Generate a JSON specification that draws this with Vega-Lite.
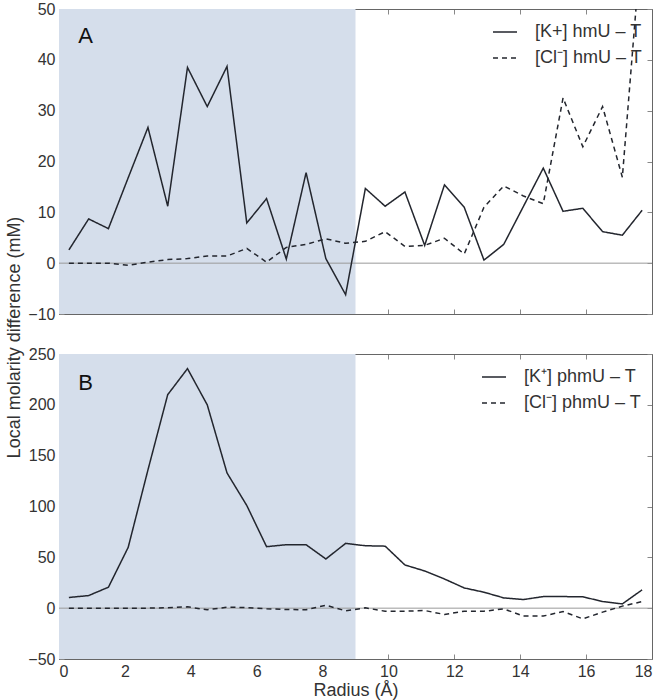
{
  "$schema": "https://vega.github.io/schema/vega-lite/v6.json",
  "padding": {"left": 5, "top": 1, "right": 8, "bottom": 2},
  "bounds": "flush",
  "config": {
    "font": "Liberation Sans",
    "view": {"stroke": null},
    "axis": {
      "grid": false,
      "domain": true,
      "domainColor": "#666",
      "domainWidth": 1,
      "tickColor": "#888",
      "tickSize": -5,
      "labelPadding": 9,
      "labelFontSize": 16,
      "labelColor": "#333",
      "titleFontSize": 18,
      "titleFontWeight": "normal",
      "titleColor": "#333",
      "zindex": 1
    },
    "concat": {"spacing": 40},
    "legend": {
      "labelFontSize": 18,
      "labelColor": "#333",
      "symbolType": "stroke",
      "symbolSize": 576,
      "symbolStrokeWidth": 1.6,
      "symbolStrokeColor": "#23262e",
      "labelOffset": 17,
      "rowPadding": 4,
      "padding": 0
    }
  },
  "datasets": {
    "shade": [{"x0": 0, "x1": 9}],
    "zero": [{"y": 0}],
    "labA": [{"x": 0.81, "y": 44.7, "t": "A"}],
    "labB": [{"x": 0.81, "y": 221.6, "t": "B"}],
    "A": [
      {"r": 0.3, "v": 2.6, "s": "[K+] hmU – T"},
      {"r": 0.9, "v": 8.7, "s": "[K+] hmU – T"},
      {"r": 1.5, "v": 6.8, "s": "[K+] hmU – T"},
      {"r": 2.1, "v": 16.8, "s": "[K+] hmU – T"},
      {"r": 2.7, "v": 26.7, "s": "[K+] hmU – T"},
      {"r": 3.3, "v": 11.2, "s": "[K+] hmU – T"},
      {"r": 3.9, "v": 38.5, "s": "[K+] hmU – T"},
      {"r": 4.5, "v": 30.8, "s": "[K+] hmU – T"},
      {"r": 5.1, "v": 38.7, "s": "[K+] hmU – T"},
      {"r": 5.7, "v": 7.9, "s": "[K+] hmU – T"},
      {"r": 6.3, "v": 12.7, "s": "[K+] hmU – T"},
      {"r": 6.9, "v": 0.8, "s": "[K+] hmU – T"},
      {"r": 7.5, "v": 17.8, "s": "[K+] hmU – T"},
      {"r": 8.1, "v": 0.9, "s": "[K+] hmU – T"},
      {"r": 8.7, "v": -6.2, "s": "[K+] hmU – T"},
      {"r": 9.3, "v": 14.7, "s": "[K+] hmU – T"},
      {"r": 9.9, "v": 11.2, "s": "[K+] hmU – T"},
      {"r": 10.5, "v": 14.0, "s": "[K+] hmU – T"},
      {"r": 11.1, "v": 3.5, "s": "[K+] hmU – T"},
      {"r": 11.7, "v": 15.4, "s": "[K+] hmU – T"},
      {"r": 12.3, "v": 11.0, "s": "[K+] hmU – T"},
      {"r": 12.9, "v": 0.6, "s": "[K+] hmU – T"},
      {"r": 13.5, "v": 3.7, "s": "[K+] hmU – T"},
      {"r": 14.1, "v": 11.2, "s": "[K+] hmU – T"},
      {"r": 14.7, "v": 18.7, "s": "[K+] hmU – T"},
      {"r": 15.3, "v": 10.2, "s": "[K+] hmU – T"},
      {"r": 15.9, "v": 10.8, "s": "[K+] hmU – T"},
      {"r": 16.5, "v": 6.2, "s": "[K+] hmU – T"},
      {"r": 17.1, "v": 5.5, "s": "[K+] hmU – T"},
      {"r": 17.7, "v": 10.4, "s": "[K+] hmU – T"},
      {"r": 0.3, "v": 0, "s": "[Cl⁻] hmU – T"},
      {"r": 0.9, "v": 0, "s": "[Cl⁻] hmU – T"},
      {"r": 1.5, "v": 0, "s": "[Cl⁻] hmU – T"},
      {"r": 2.1, "v": -0.4, "s": "[Cl⁻] hmU – T"},
      {"r": 2.7, "v": 0.2, "s": "[Cl⁻] hmU – T"},
      {"r": 3.3, "v": 0.7, "s": "[Cl⁻] hmU – T"},
      {"r": 3.9, "v": 0.9, "s": "[Cl⁻] hmU – T"},
      {"r": 4.5, "v": 1.4, "s": "[Cl⁻] hmU – T"},
      {"r": 5.1, "v": 1.4, "s": "[Cl⁻] hmU – T"},
      {"r": 5.7, "v": 2.9, "s": "[Cl⁻] hmU – T"},
      {"r": 6.3, "v": 0.2, "s": "[Cl⁻] hmU – T"},
      {"r": 6.9, "v": 3.1, "s": "[Cl⁻] hmU – T"},
      {"r": 7.5, "v": 3.7, "s": "[Cl⁻] hmU – T"},
      {"r": 8.1, "v": 4.8, "s": "[Cl⁻] hmU – T"},
      {"r": 8.7, "v": 3.9, "s": "[Cl⁻] hmU – T"},
      {"r": 9.3, "v": 4.3, "s": "[Cl⁻] hmU – T"},
      {"r": 9.9, "v": 6.2, "s": "[Cl⁻] hmU – T"},
      {"r": 10.5, "v": 3.3, "s": "[Cl⁻] hmU – T"},
      {"r": 11.1, "v": 3.5, "s": "[Cl⁻] hmU – T"},
      {"r": 11.7, "v": 4.9, "s": "[Cl⁻] hmU – T"},
      {"r": 12.3, "v": 1.8, "s": "[Cl⁻] hmU – T"},
      {"r": 12.9, "v": 11.0, "s": "[Cl⁻] hmU – T"},
      {"r": 13.5, "v": 15.2, "s": "[Cl⁻] hmU – T"},
      {"r": 14.1, "v": 13.2, "s": "[Cl⁻] hmU – T"},
      {"r": 14.7, "v": 11.7, "s": "[Cl⁻] hmU – T"},
      {"r": 15.3, "v": 32.5, "s": "[Cl⁻] hmU – T"},
      {"r": 15.9, "v": 22.9, "s": "[Cl⁻] hmU – T"},
      {"r": 16.5, "v": 30.8, "s": "[Cl⁻] hmU – T"},
      {"r": 17.1, "v": 16.9, "s": "[Cl⁻] hmU – T"},
      {"r": 17.7, "v": 65, "s": "[Cl⁻] hmU – T"}
    ],
    "B": [
      {"r": 0.3, "v": 10.5, "s": "[K⁺] phmU – T"},
      {"r": 0.9, "v": 12.4, "s": "[K⁺] phmU – T"},
      {"r": 1.5, "v": 20.6, "s": "[K⁺] phmU – T"},
      {"r": 2.1, "v": 59.8, "s": "[K⁺] phmU – T"},
      {"r": 2.7, "v": 136, "s": "[K⁺] phmU – T"},
      {"r": 3.3, "v": 210, "s": "[K⁺] phmU – T"},
      {"r": 3.9, "v": 235.6, "s": "[K⁺] phmU – T"},
      {"r": 4.5, "v": 200, "s": "[K⁺] phmU – T"},
      {"r": 5.1, "v": 133, "s": "[K⁺] phmU – T"},
      {"r": 5.7, "v": 101, "s": "[K⁺] phmU – T"},
      {"r": 6.3, "v": 60.5, "s": "[K⁺] phmU – T"},
      {"r": 6.9, "v": 62.4, "s": "[K⁺] phmU – T"},
      {"r": 7.5, "v": 62.4, "s": "[K⁺] phmU – T"},
      {"r": 8.1, "v": 48.4, "s": "[K⁺] phmU – T"},
      {"r": 8.7, "v": 63.7, "s": "[K⁺] phmU – T"},
      {"r": 9.3, "v": 61.4, "s": "[K⁺] phmU – T"},
      {"r": 9.9, "v": 61, "s": "[K⁺] phmU – T"},
      {"r": 10.5, "v": 42.5, "s": "[K⁺] phmU – T"},
      {"r": 11.1, "v": 36.6, "s": "[K⁺] phmU – T"},
      {"r": 11.7, "v": 28.7, "s": "[K⁺] phmU – T"},
      {"r": 12.3, "v": 19.9, "s": "[K⁺] phmU – T"},
      {"r": 12.9, "v": 15.7, "s": "[K⁺] phmU – T"},
      {"r": 13.5, "v": 10.1, "s": "[K⁺] phmU – T"},
      {"r": 14.1, "v": 8.5, "s": "[K⁺] phmU – T"},
      {"r": 14.7, "v": 11.4, "s": "[K⁺] phmU – T"},
      {"r": 15.3, "v": 11.4, "s": "[K⁺] phmU – T"},
      {"r": 15.9, "v": 11.2, "s": "[K⁺] phmU – T"},
      {"r": 16.5, "v": 6.5, "s": "[K⁺] phmU – T"},
      {"r": 17.1, "v": 4.2, "s": "[K⁺] phmU – T"},
      {"r": 17.7, "v": 18, "s": "[K⁺] phmU – T"},
      {"r": 0.3, "v": 0, "s": "[Cl⁻] phmU – T"},
      {"r": 0.9, "v": 0, "s": "[Cl⁻] phmU – T"},
      {"r": 1.5, "v": 0, "s": "[Cl⁻] phmU – T"},
      {"r": 2.1, "v": 0, "s": "[Cl⁻] phmU – T"},
      {"r": 2.7, "v": 0, "s": "[Cl⁻] phmU – T"},
      {"r": 3.3, "v": 0.5, "s": "[Cl⁻] phmU – T"},
      {"r": 3.9, "v": 1.3, "s": "[Cl⁻] phmU – T"},
      {"r": 4.5, "v": -1.6, "s": "[Cl⁻] phmU – T"},
      {"r": 5.1, "v": 1, "s": "[Cl⁻] phmU – T"},
      {"r": 5.7, "v": 0.6, "s": "[Cl⁻] phmU – T"},
      {"r": 6.3, "v": -0.6, "s": "[Cl⁻] phmU – T"},
      {"r": 6.9, "v": -1.3, "s": "[Cl⁻] phmU – T"},
      {"r": 7.5, "v": -1.6, "s": "[Cl⁻] phmU – T"},
      {"r": 8.1, "v": 2.9, "s": "[Cl⁻] phmU – T"},
      {"r": 8.7, "v": -2.6, "s": "[Cl⁻] phmU – T"},
      {"r": 9.3, "v": 0.3, "s": "[Cl⁻] phmU – T"},
      {"r": 9.9, "v": -3, "s": "[Cl⁻] phmU – T"},
      {"r": 10.5, "v": -3, "s": "[Cl⁻] phmU – T"},
      {"r": 11.1, "v": -2.3, "s": "[Cl⁻] phmU – T"},
      {"r": 11.7, "v": -6.2, "s": "[Cl⁻] phmU – T"},
      {"r": 12.3, "v": -3, "s": "[Cl⁻] phmU – T"},
      {"r": 12.9, "v": -3, "s": "[Cl⁻] phmU – T"},
      {"r": 13.5, "v": -0.7, "s": "[Cl⁻] phmU – T"},
      {"r": 14.1, "v": -7.8, "s": "[Cl⁻] phmU – T"},
      {"r": 14.7, "v": -7.8, "s": "[Cl⁻] phmU – T"},
      {"r": 15.3, "v": -3.3, "s": "[Cl⁻] phmU – T"},
      {"r": 15.9, "v": -10.5, "s": "[Cl⁻] phmU – T"},
      {"r": 16.5, "v": -3.9, "s": "[Cl⁻] phmU – T"},
      {"r": 17.1, "v": 2, "s": "[Cl⁻] phmU – T"},
      {"r": 17.7, "v": 6.5, "s": "[Cl⁻] phmU – T"}
    ]
  },
  "resolve": {"scale": {"strokeDash": "independent"}, "legend": {"strokeDash": "independent"}},
  "vconcat": [
    {
      "width": 593,
      "height": 305,
      "resolve": {"axis": {"x": "independent", "y": "independent"}},
      "layer": [
        {
          "data": {"name": "shade"},
          "mark": {"type": "rect", "color": "#d5deeb"},
          "encoding": {
            "x": {"field": "x0", "type": "quantitative", "scale": {"domain": [0, 18], "nice": false},
                  "axis": {"orient": "top", "labels": false, "title": null, "values": [0, 2, 4, 6, 8, 10, 12, 14, 16, 18]}},
            "x2": {"field": "x1"}
          }
        },
        {
          "data": {"name": "zero"},
          "mark": {"type": "rule", "color": "#9a9a9a", "strokeWidth": 1},
          "encoding": {
            "y": {"field": "y", "type": "quantitative", "scale": {"domain": [-10, 50], "nice": false},
                  "axis": {"orient": "right", "labels": false, "title": null, "values": [-10, 0, 10, 20, 30, 40, 50]}}
          }
        },
        {
          "data": {"name": "A"},
          "mark": {"type": "line", "color": "#23262e", "strokeWidth": 1.5, "clip": true},
          "encoding": {
            "x": {"field": "r", "type": "quantitative", "scale": {"domain": [0, 18], "nice": false},
                  "axis": {"orient": "bottom", "labels": false, "title": null, "values": [0, 2, 4, 6, 8, 10, 12, 14, 16, 18]}},
            "y": {"field": "v", "type": "quantitative", "scale": {"domain": [-10, 50], "nice": false},
                  "axis": {"orient": "left", "title": null, "values": [-10, 0, 10, 20, 30, 40, 50], "labelExpr": "replace(datum.label, '-', '−')"}},
            "strokeDash": {"field": "s", "type": "nominal",
                  "scale": {"domain": ["[K+] hmU – T", "[Cl⁻] hmU – T"], "range": [[1, 0], [5, 4]]},
                  "legend": {"title": null, "orient": "none", "legendX": 433, "legendY": 10}}
          }
        },
        {
          "data": {"name": "labA"},
          "mark": {"type": "text", "fontSize": 22, "color": "#111"},
          "encoding": {
            "x": {"field": "x", "type": "quantitative", "axis": null, "scale": {"domain": [0, 18], "nice": false}},
            "y": {"field": "y", "type": "quantitative", "axis": null, "scale": {"domain": [-10, 50], "nice": false}},
            "text": {"field": "t"}
          }
        }
      ]
    },
    {
      "width": 593,
      "height": 305,
      "resolve": {"axis": {"x": "independent", "y": "independent"}},
      "layer": [
        {
          "data": {"name": "shade"},
          "mark": {"type": "rect", "color": "#d5deeb"},
          "encoding": {
            "x": {"field": "x0", "type": "quantitative", "scale": {"domain": [0, 18], "nice": false},
                  "axis": {"orient": "top", "labels": false, "title": null, "values": [0, 2, 4, 6, 8, 10, 12, 14, 16, 18]}},
            "x2": {"field": "x1"}
          }
        },
        {
          "data": {"name": "zero"},
          "mark": {"type": "rule", "color": "#9a9a9a", "strokeWidth": 1},
          "encoding": {
            "y": {"field": "y", "type": "quantitative", "scale": {"domain": [-50, 250], "nice": false},
                  "axis": {"orient": "right", "labels": false, "title": null, "values": [-50, 0, 50, 100, 150, 200, 250]}}
          }
        },
        {
          "data": {"name": "B"},
          "mark": {"type": "line", "color": "#23262e", "strokeWidth": 1.5, "clip": true},
          "encoding": {
            "x": {"field": "r", "type": "quantitative", "scale": {"domain": [0, 18], "nice": false},
                  "axis": {"orient": "bottom", "title": "Radius (Å)", "values": [0, 2, 4, 6, 8, 10, 12, 14, 16, 18], "titlePadding": 2}},
            "y": {"field": "v", "type": "quantitative", "scale": {"domain": [-50, 250], "nice": false},
                  "axis": {"orient": "left", "title": "Local molarity difference (mM)", "titleY": -17, "values": [-50, 0, 50, 100, 150, 200, 250], "labelExpr": "replace(datum.label, '-', '−')"}},
            "strokeDash": {"field": "s", "type": "nominal",
                  "scale": {"domain": ["[K⁺] phmU – T", "[Cl⁻] phmU – T"], "range": [[1, 0], [5, 4]]},
                  "legend": {"title": null, "orient": "none", "legendX": 422, "legendY": 10}}
          }
        },
        {
          "data": {"name": "labB"},
          "mark": {"type": "text", "fontSize": 22, "color": "#111"},
          "encoding": {
            "x": {"field": "x", "type": "quantitative", "axis": null, "scale": {"domain": [0, 18], "nice": false}},
            "y": {"field": "y", "type": "quantitative", "axis": null, "scale": {"domain": [-50, 250], "nice": false}},
            "text": {"field": "t"}
          }
        }
      ]
    }
  ]
}
